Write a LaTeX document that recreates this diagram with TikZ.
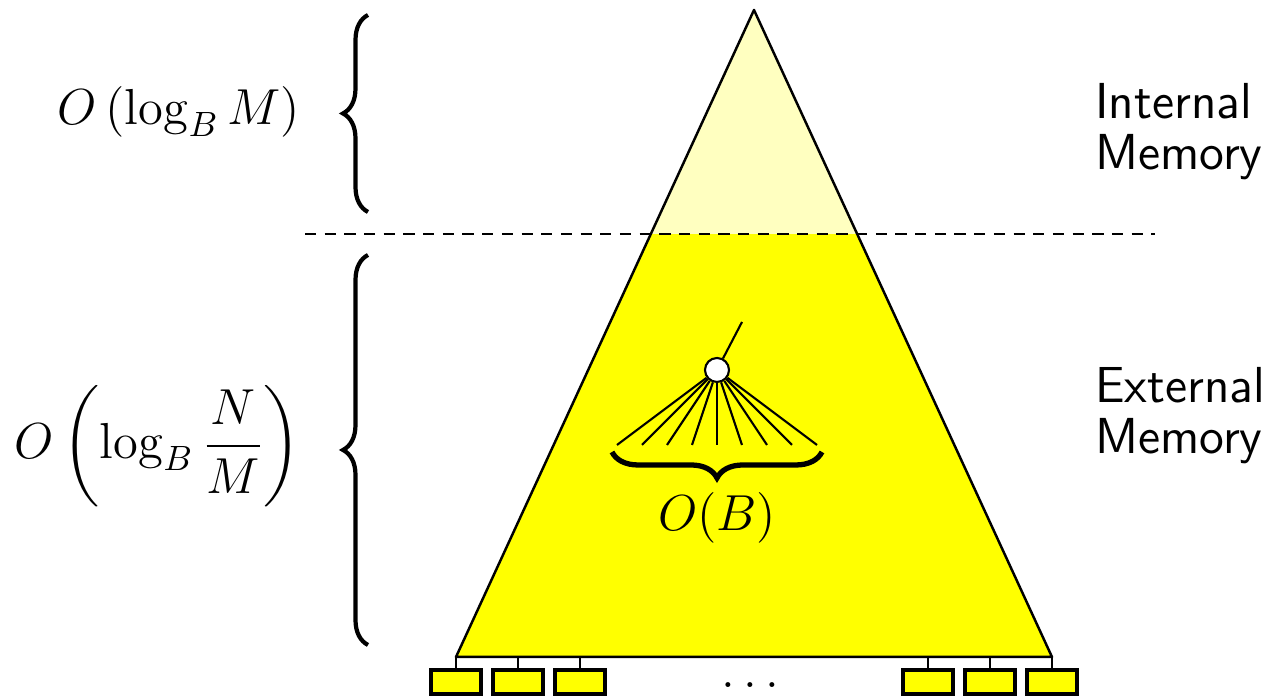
\documentclass[tikz,border=0pt]{standalone}
\usepackage{amsmath,amssymb}
\usepackage{tikz}
\usetikzlibrary{decorations.pathreplacing,calc}
\definecolor{paleyellow}{RGB}{255,255,192}
\definecolor{treeyellow}{RGB}{255,255,0}

\begin{document}
\begin{tikzpicture}[every node/.style={font=\Large},
    brc/.style={decorate,decoration={brace,amplitude=#1}},
    leaf/.style={draw,fill=treeyellow,line width=1pt,minimum width=0.5cm,minimum height=0.24cm,inner sep=0pt}]
    \useasboundingbox (0,0) rectangle (12.69,6.97);
    \coordinate (apex) at (7.54,6.87);
    \coordinate (bl) at (4.56,0.40);
    \coordinate (br) at (10.52,0.40);
    \coordinate (cl) at ($(apex)!0.346!(bl)$);
    \coordinate (cr) at ($(apex)!0.346!(br)$);
    \fill[treeyellow] (cl) -- (bl) -- (br) -- (cr) -- cycle;
    \fill[paleyellow] (apex) -- (cl) -- (cr) -- cycle;
    \draw[line width=0.7pt,line join=round] (apex) -- (bl) -- (br) -- cycle;
    \coordinate (dl) at (3.05,4.63);
    \coordinate (dr) at (11.55,4.63);
    \draw[semithick,dash pattern=on 3.2pt off 2.4pt] (dl) -- (dr);
    \draw[brc=0.25cm,line width=1.2pt] (3.68,4.85) -- (3.68,6.82);
    \draw[brc=0.25cm,line width=1.2pt] (3.68,0.52) -- (3.68,4.42);
    \node (intcost) at (1.79,5.85) {$O\left(\log_B M\right)$};
    \node (extcost) at (1.58,2.51) {$O\left(\log_B \dfrac{N}{M}\right)$};
    \node[anchor=west,align=left,font=\Large\sffamily] (internal) at (10.83,5.65) {Internal\\[-3.5pt]Memory};
    \node[anchor=west,align=left,font=\Large\sffamily] (external) at (10.83,2.81) {External\\[-3.5pt]Memory};
    \node[circle,draw,fill=white,semithick,minimum size=0.24cm,inner sep=0pt] (root) at (7.17,3.27) {};
    \coordinate (up) at (7.42,3.75);
    \draw[semithick] (root) -- (up);
    \foreach \i in {0,...,8} {
      \coordinate (f\i) at (6.17+0.25*\i,2.52);
      \draw[semithick] (root) -- (f\i);
    }
    \draw[brc=0.26cm,line width=1.5pt] (8.22,2.45) -- (6.12,2.45);
    \node (fanout) at (7.17,1.79) {$O(B)$};
    \foreach \x [count=\k] in {4.56,5.18,5.80,9.28,9.90,10.52} {
      \node[leaf] (leaf\k) at (\x,0.15) {};
      \coordinate (stem\k) at (\x,0.40);
      \draw[semithick] (leaf\k) -- (stem\k);
    }
    \node (dots) at (7.55,0.12) {$\dots$};
  \end{tikzpicture}
\end{document}
